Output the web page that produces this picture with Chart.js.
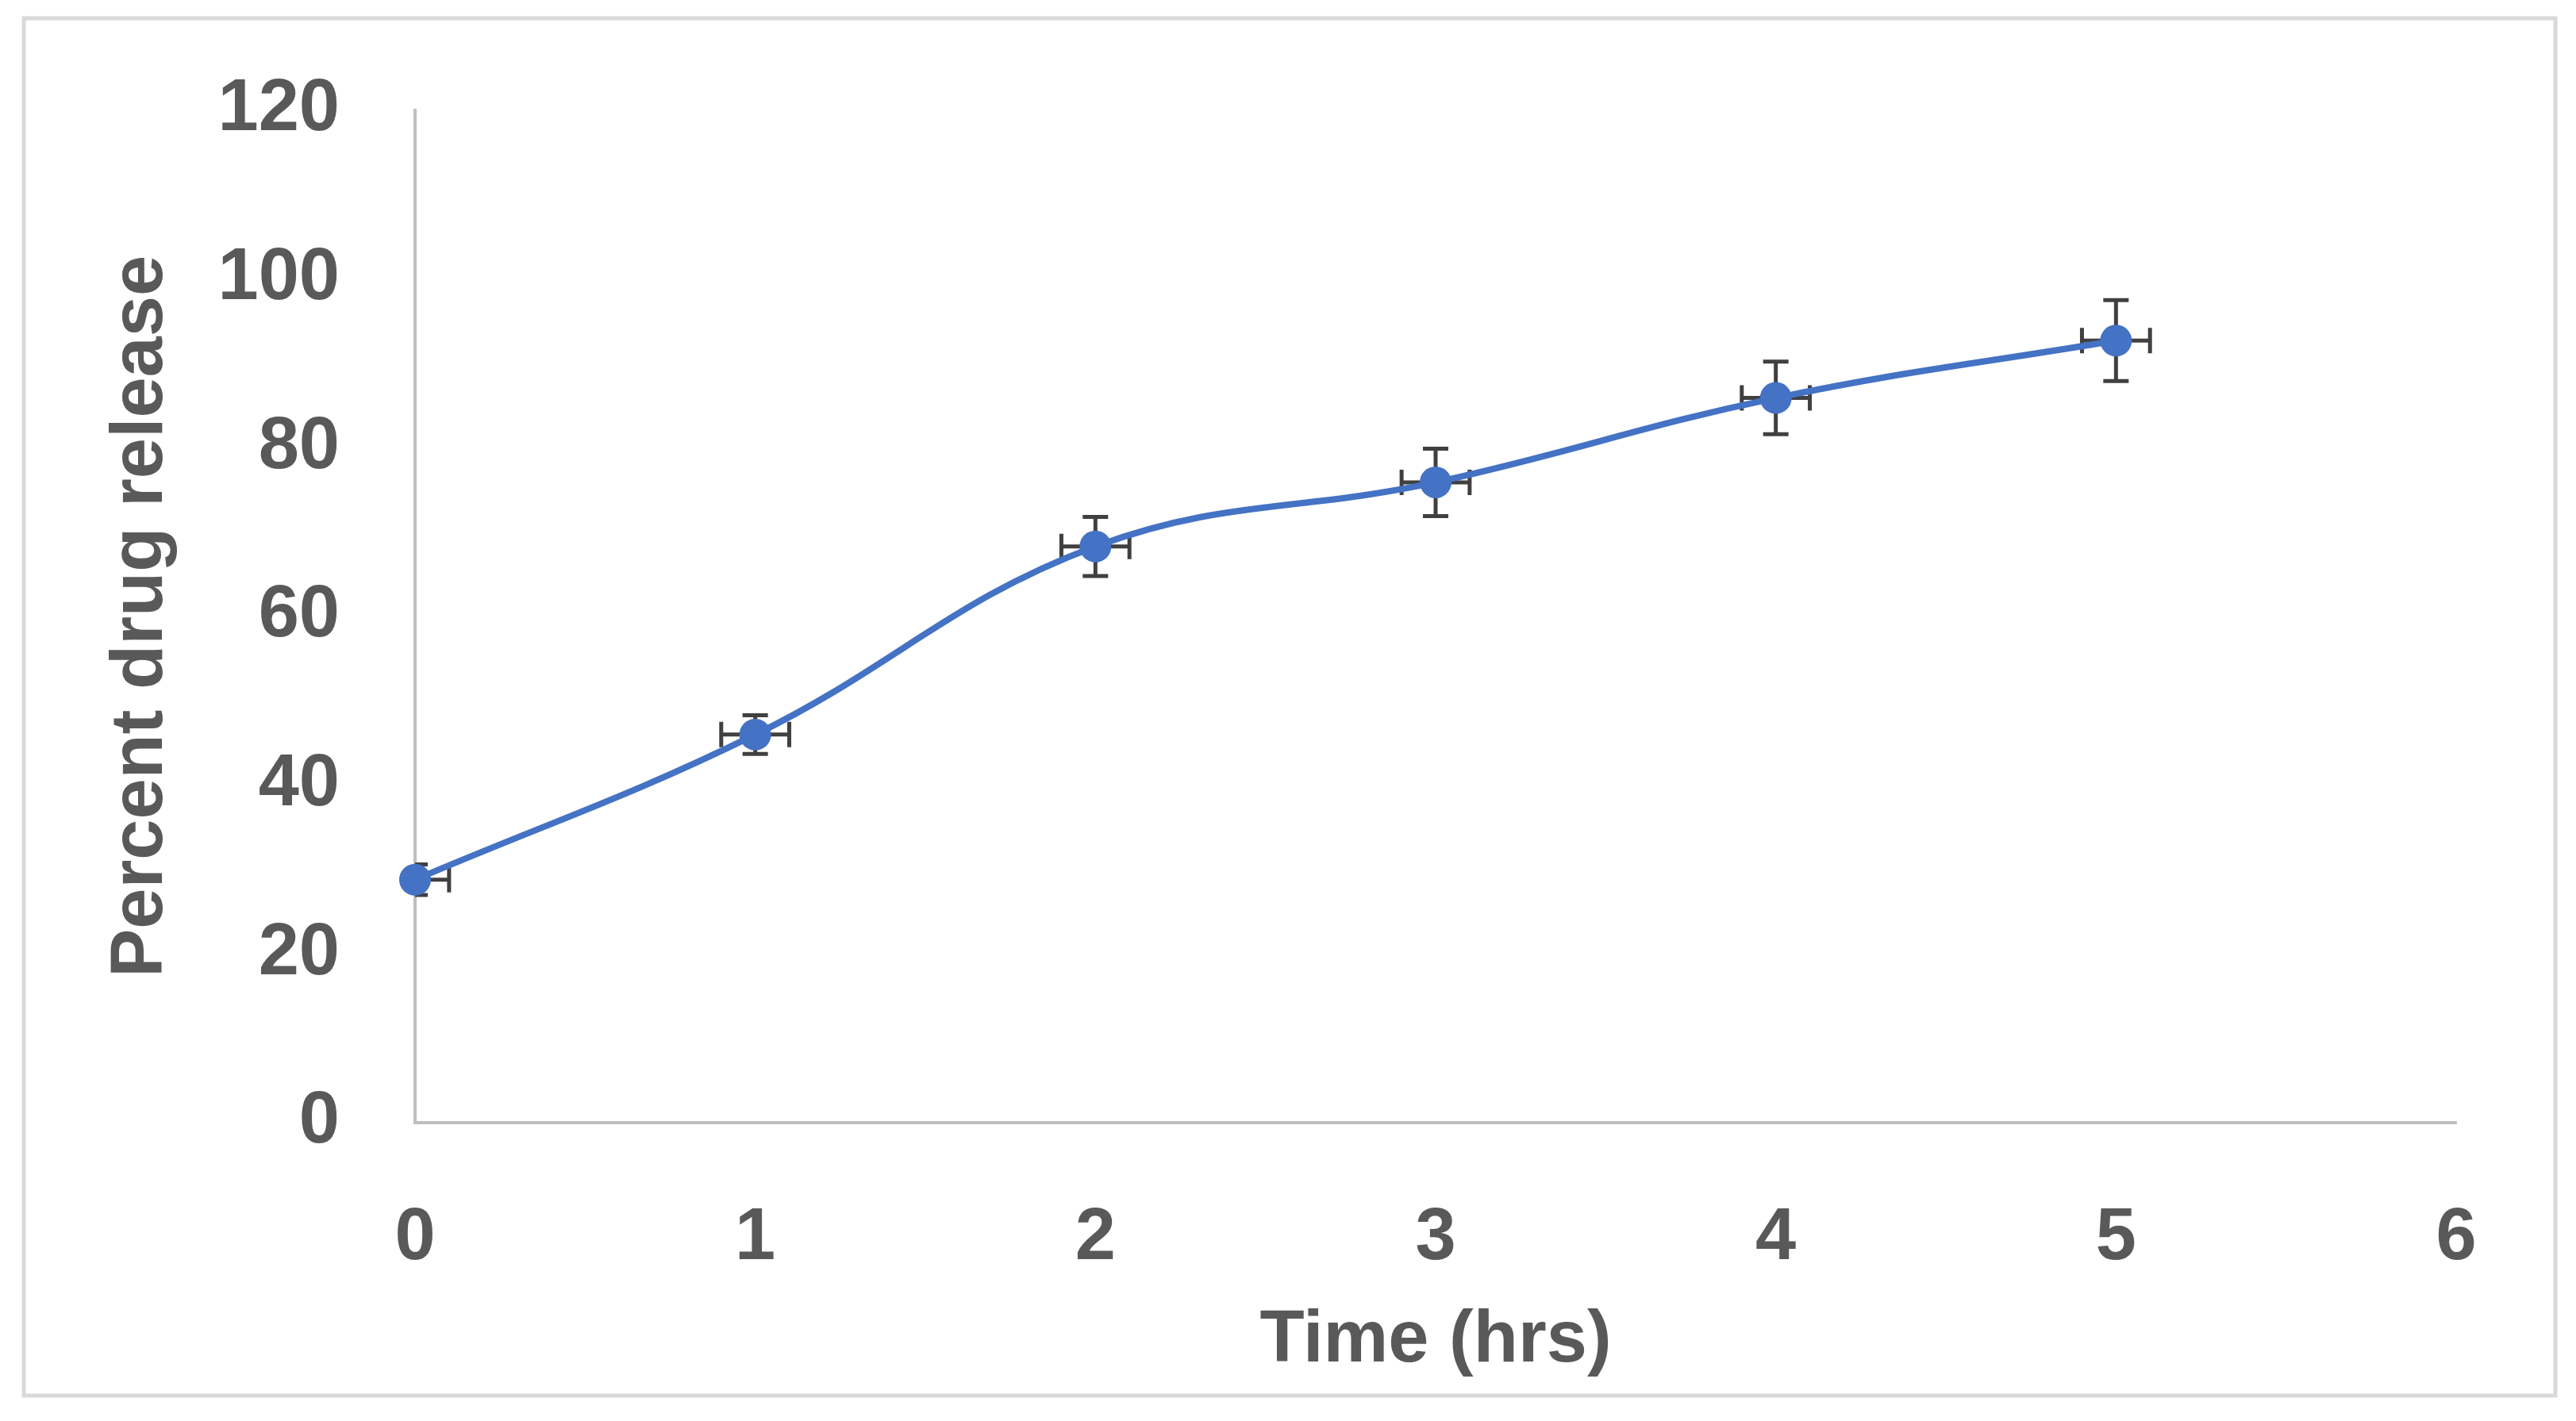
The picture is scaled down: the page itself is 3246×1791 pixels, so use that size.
<!DOCTYPE html>
<html><head><meta charset="utf-8">
<script src="https://cdn.jsdelivr.net/npm/chart.js@4.4.1/dist/chart.umd.min.js"></script>
<style>html,body{margin:0;padding:0;background:#fff;} canvas{display:block;}</style>
</head><body>
<canvas id="c" width="3246" height="1791"></canvas>
<script>
const timeHrs = [0, 1, 2, 3, 4, 5];
const percentRelease = [28.8, 46.0, 68.3, 75.9, 85.9, 92.7];
const releaseSD = [1.8, 2.3, 3.5, 4.0, 4.3, 4.8];
const timeSD = [0.1, 0.1, 0.1, 0.1, 0.1, 0.1];
const xTicks = [0, 1, 2, 3, 4, 5, 6];
const yTicks = [0, 20, 40, 60, 80, 100, 120];
const xTitle = 'Time (hrs)';
const yTitle = 'Percent drug release';

const textColor = '#595959';
const font = {family: "'Liberation Sans', Arial, sans-serif", weight: 'bold', size: 92};

const frame = {
  id: 'frame',
  beforeDraw(chart) {
    const ctx = chart.ctx;
    ctx.save();
    ctx.fillStyle = '#ffffff';
    ctx.fillRect(0, 0, chart.width, chart.height);
    ctx.strokeStyle = '#D9D9D9';
    ctx.lineWidth = 5;
    ctx.strokeRect(30, 23, 3190, 1736);
    ctx.restore();
  }
};

const errorBars = {
  id: 'errorBars',
  beforeDatasetsDraw(chart) {
    const {ctx, chartArea, scales: {x, y}} = chart;
    ctx.save();
    ctx.beginPath();
    ctx.rect(chartArea.left, chartArea.top, chartArea.right - chartArea.left, chartArea.bottom - chartArea.top);
    ctx.clip();
    ctx.strokeStyle = '#404040';
    ctx.lineWidth = 5;
    const cap = 16;
    timeHrs.forEach((t, i) => {
      const v = percentRelease[i];
      const px = x.getPixelForValue(t), py = y.getPixelForValue(v);
      const yTop = y.getPixelForValue(v + releaseSD[i]), yBot = y.getPixelForValue(v - releaseSD[i]);
      const xL = x.getPixelForValue(t - timeSD[i]), xR = x.getPixelForValue(t + timeSD[i]);
      ctx.beginPath();
      ctx.moveTo(px, yTop); ctx.lineTo(px, yBot);
      ctx.moveTo(px - cap, yTop); ctx.lineTo(px + cap, yTop);
      ctx.moveTo(px - cap, yBot); ctx.lineTo(px + cap, yBot);
      ctx.moveTo(xL, py); ctx.lineTo(xR, py);
      ctx.moveTo(xL, py - cap); ctx.lineTo(xL, py + cap);
      ctx.moveTo(xR, py - cap); ctx.lineTo(xR, py + cap);
      ctx.stroke();
    });
    ctx.restore();
  }
};

new Chart(document.getElementById('c'), {
  type: 'line',
  data: {
    datasets: [{
      data: timeHrs.map((t, i) => ({x: t, y: percentRelease[i]})),
      borderColor: '#4472C4',
      backgroundColor: '#4472C4',
      borderWidth: 8,
      pointRadius: 20,
      pointBorderWidth: 0,
      pointBackgroundColor: '#4472C4',
      tension: 0.4,
      fill: false,
      clip: false
    }]
  },
  options: {
    responsive: false,
    animation: false,
    devicePixelRatio: 1,
    layout: {padding: {top: 139, right: 151, bottom: 0, left: 0}},
    plugins: {legend: {display: false}, tooltip: {enabled: false}},
    scales: {
      x: {
        type: 'linear', min: 0, max: 6,
        afterBuildTicks(s) { s.ticks = xTicks.map(v => ({value: v})); },
        afterFit(s) { s.height = 376; s.paddingLeft = 0; s.paddingRight = 0; },
        ticks: {color: textColor, font: font, padding: 91, maxRotation: 0},
        grid: {display: false, drawTicks: false, tickLength: 0},
        border: {display: true, color: '#BFBFBF', width: 4},
        title: {display: true, text: xTitle, color: textColor, font: font, padding: 45}
      },
      y: {
        type: 'linear', min: 0, max: 120,
        afterBuildTicks(s) { s.ticks = yTicks.map(v => ({value: v})); },
        afterFit(s) { s.width = 523; s.paddingTop = 0; s.paddingBottom = 0; },
        ticks: {color: textColor, font: font, padding: 95},
        grid: {display: false, drawTicks: false, tickLength: 0},
        border: {display: true, color: '#BFBFBF', width: 4},
        title: {display: true, text: yTitle, color: textColor, font: font, padding: 123}
      }
    }
  },
  plugins: [frame, errorBars]
});
</script>
</body></html>
